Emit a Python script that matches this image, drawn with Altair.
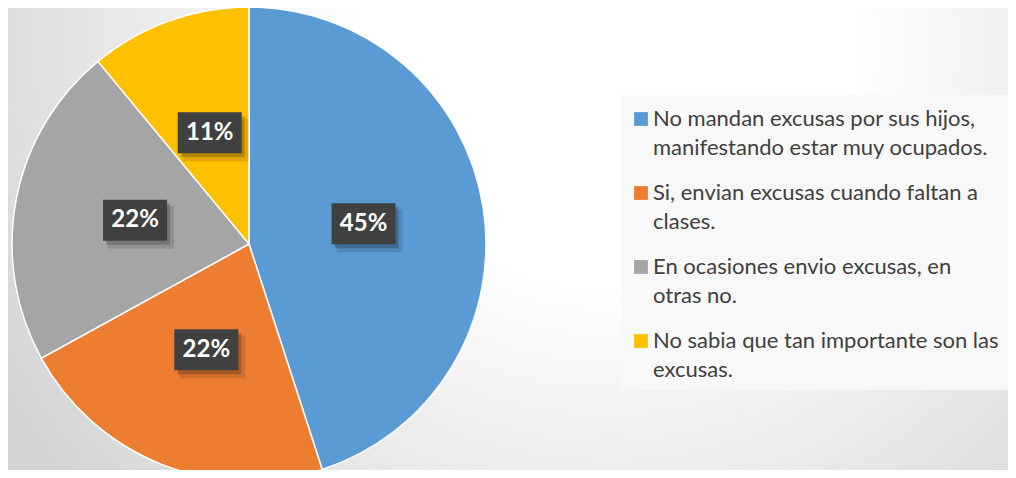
import altair as alt
import pandas as pd

categories = [
    "No mandan excusas por sus hijos, manifestando estar muy ocupados.",
    "Si, envian excusas cuando faltan a clases.",
    "En ocasiones envio excusas, en otras no.",
    "No sabia que tan importante son las excusas.",
]
legend_lines = [
    "No mandan excusas por sus hijos,\nmanifestando estar muy ocupados.",
    "Si, envian excusas cuando faltan a\nclases.",
    "En ocasiones envio excusas, en\notras no.",
    "No sabia que tan importante son las\nexcusas.",
]
values = [45, 22, 22, 11]
pct_labels = ["45%", "22%", "22%", "11%"]
colors = ["#5B9BD5", "#ED7D31", "#A5A5A5", "#FFC000"]

W, H = 1000, 462
CX, CY, R = 241, 236, 237
LR = 116
BW, BH = 64, 41

df = pd.DataFrame({
    "cat": categories,
    "legend": legend_lines,
    "value": values,
    "label": pct_labels,
    "idx": list(range(len(categories))),
})
one = pd.DataFrame({"a": [0]})
base = alt.Chart(df)
color_scale = alt.Scale(domain=categories, range=colors)

bg = alt.Chart(one).mark_rect(
    fill={
        "gradient": "radial",
        "x1": 0.6, "y1": 0.3, "r1": 0,
        "x2": 0.6, "y2": 0.3, "r2": 0.7,
        "stops": [
            {"offset": 0, "color": "#ffffff"},
            {"offset": 0.35, "color": "#ffffff"},
            {"offset": 1, "color": "#d4d4d4"},
        ],
    }
).encode(x=alt.value(0), x2=alt.value(W), y=alt.value(0), y2=alt.value(H))

pie = base.mark_arc(radius=R, stroke="white", strokeWidth=1.5).encode(
    theta=alt.Theta("value:Q", stack=True),
    color=alt.Color("cat:N", scale=color_scale, legend=None),
    order=alt.Order("idx:Q"),
    x=alt.value(CX),
    y=alt.value(CY),
)

lab = base.transform_joinaggregate(total="sum(value)").transform_window(
    cum="sum(value)", sort=[alt.SortField("idx")], frame=[None, 0]
).transform_calculate(
    mid="(datum.cum - datum.value/2) / datum.total * 2 * PI",
).transform_calculate(
    bx=f"{CX} + {LR} * sin(datum.mid)",
    by=f"{CY} - {LR} * cos(datum.mid) - 2",
).transform_calculate(
    x0=f"datum.bx - {BW / 2}", x1=f"datum.bx + {BW / 2}",
    y0=f"datum.by - {BH / 2}", y1=f"datum.by + {BH / 2}",
    sx0=f"datum.bx - {BW / 2} + 3", sx1=f"datum.bx + {BW / 2} + 3",
    sy0=f"datum.by - {BH / 2} + 4", sy1=f"datum.by + {BH / 2} + 4",
    tx0=f"datum.bx - {BW / 2} + 5", tx1=f"datum.bx + {BW / 2} + 7",
    ty0=f"datum.by - {BH / 2} + 6", ty1=f"datum.by + {BH / 2} + 8",
)

shadow2 = lab.mark_rect(fill="black", opacity=0.12).encode(
    x=alt.X("tx0:Q", scale=None, axis=None), x2="tx1:Q",
    y=alt.Y("ty0:Q", scale=None, axis=None), y2="ty1:Q",
)
shadow = lab.mark_rect(fill="black", opacity=0.2).encode(
    x=alt.X("sx0:Q", scale=None, axis=None), x2="sx1:Q",
    y=alt.Y("sy0:Q", scale=None, axis=None), y2="sy1:Q",
)
box = lab.mark_rect(fill="#404040").encode(
    x=alt.X("x0:Q", scale=None, axis=None), x2="x1:Q",
    y=alt.Y("y0:Q", scale=None, axis=None), y2="y1:Q",
)
txt = lab.mark_text(
    font="Lato", fontWeight="bold", fontSize=24, color="white",
    baseline="middle", align="center",
).encode(
    x=alt.X("bx:Q", scale=None, axis=None),
    y=alt.Y("by:Q", scale=None, axis=None),
    text="label:N",
)

leg_bg = alt.Chart(one).mark_rect(fill="#f8f8f8").encode(
    x=alt.value(613), x2=alt.value(W), y=alt.value(87), y2=alt.value(382)
)
yscale = alt.Scale(type="point", domain=[0, 1, 2, 3], range=[111, 333], padding=0)
leg_sym = base.mark_square(size=190, opacity=1, filled=True).encode(
    x=alt.value(633),
    y=alt.Y("idx:O", scale=yscale, axis=None),
    color=alt.Color("cat:N", scale=color_scale, legend=None),
)
leg_txt = base.mark_text(
    align="left", baseline="middle", lineBreak="\n", lineHeight=29,
    font="Lato", fontSize=22, color="#404040",
).encode(
    x=alt.value(645),
    y=alt.Y("idx:O", scale=yscale, axis=None),
    text="legend:N",
)

chart = alt.layer(
    bg, pie, shadow2, shadow, box, txt, leg_bg, leg_sym, leg_txt
).resolve_scale(
    x="independent", y="independent"
).properties(
    width=W, height=H, padding=0, autosize="none", background="#e6e6e6"
).configure_view(stroke=None)

chart.save("out.html", embed_options={"renderer": "svg", "actions": False})
